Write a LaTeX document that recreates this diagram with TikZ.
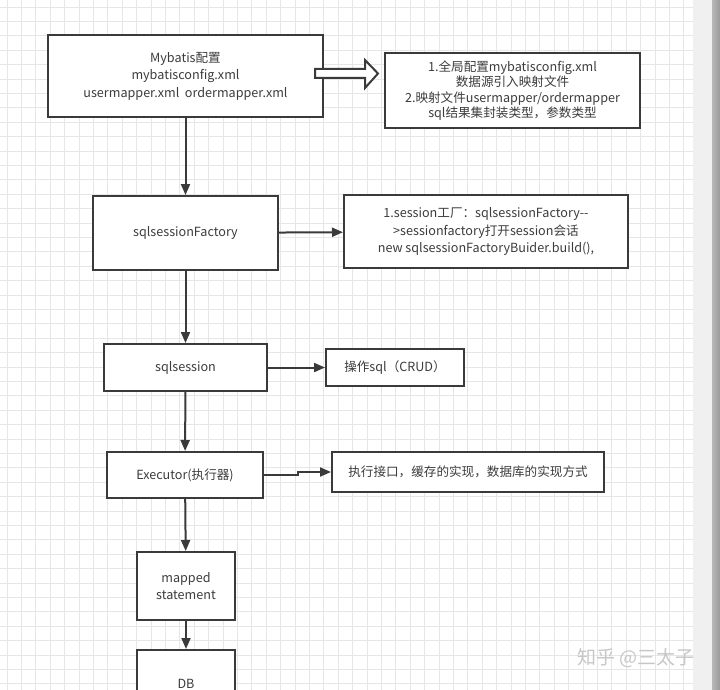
\documentclass[tikz,border=0pt]{standalone}
\usepackage{fontspec}
\setmainfont{Noto Sans CJK SC}
\usetikzlibrary{arrows.meta}

\definecolor{gridline}{HTML}{E6E6E6}
\definecolor{boxline}{HTML}{3A3A3A}
\definecolor{boxtext}{HTML}{3C3C3C}

\tikzset{
  box/.style={draw=boxline, line width=2pt, fill=white, text=boxtext,
    align=center, inner sep=0pt, font=\fontsize{12.6}{17.5}\selectfont},
  link/.style={-{Triangle[length=11pt,width=9pt]}, draw=boxline, line width=2pt},
}

\begin{document}
\begin{tikzpicture}[x=1pt, y=-1pt]
  \useasboundingbox (0,0) rectangle (720,690);
  \fill[white] (0,0) rectangle (720,690);

  % grid paper
  \foreach \gx in {7,21.4,...,693} \draw[gridline, line width=0.9pt] (\gx,0) -- (\gx,690);
  \foreach \gy in {7,21.4,...,690} \draw[gridline, line width=0.9pt] (0,\gy) -- (693,\gy);
  \fill[black!6] (693,0) rectangle (712,690);
  \shade[left color=black!28, right color=black!40] (712,0) rectangle (720,690);

  % main column
  \node[box, minimum width=275, minimum height=82] (config) at (185.5,76)
    {Mybatis配置\\mybatisconfig.xml\\usermapper.xml\ \ ordermapper.xml};
  \node[box, minimum width=185, minimum height=74] (factory) at (185.5,233) {sqlsessionFactory};
  \node[box, minimum width=163, minimum height=47] (session) at (185.5,367.5) {sqlsession};
  \node[box, minimum width=156, minimum height=46] (exec) at (185,475) {Executor(执行器)};
  \node[box, minimum width=98, minimum height=68] (mapped) at (186,586)
    {mapped\\statement};
  \node[box, minimum width=98, minimum height=68] (db) at (186,684) {DB};

  % notes
  \node[box, minimum width=255, minimum height=75, font=\fontsize{12.6}{15.3}\selectfont] (confnote) at (512.5,90.5)
    {1.全局配置mybatisconfig.xml\\数据源引入映射文件\\2.映射文件usermapper/ordermapper\\sql结果集封装类型，参数类型};
  \node[box, minimum width=284, minimum height=73] (factnote) at (486,231.5)
    {1.session工厂：sqlsessionFactory-{}-\\>sessionfactory打开session会话\\new sqlsessionFactoryBuider.build(),};
  \node[box, minimum width=138, minimum height=37] (crud) at (395,367.5) {操作sql（CRUD）};
  \node[box, minimum width=272, minimum height=40] (cache) at (468,472)
    {执行接口，缓存的实现，数据库的实现方式};

  % connectors
  \draw[link] (config) -- (factory);
  \draw[link] (factory) -- (session);
  \draw[link] (session) -- (exec);
  \draw[link] (exec) -- (mapped);
  \draw[link] (mapped) -- (db);
  \draw[link] (factory) -- (factnote);
  \draw[link] (session) -- (crud);
  \draw[link] (exec.east) -- ++(34,0) |- (cache.west);

  % hollow arrow
  \coordinate (tail) at (315,73.5);
  \draw[boxline, line width=2pt, fill=white]
    (tail) ++(0,-4.5) -- ++(50,0) -- ++(0,-9) -- (378,73.5) -- (365,88)
    -- ++(0,-10) -- ++(-50,0) -- cycle;

  % watermark
  \node[text=black!22, font=\fontsize{19}{19}\selectfont] (mark) at (636,658) {知乎 @三太子};
\end{tikzpicture}
\end{document}
